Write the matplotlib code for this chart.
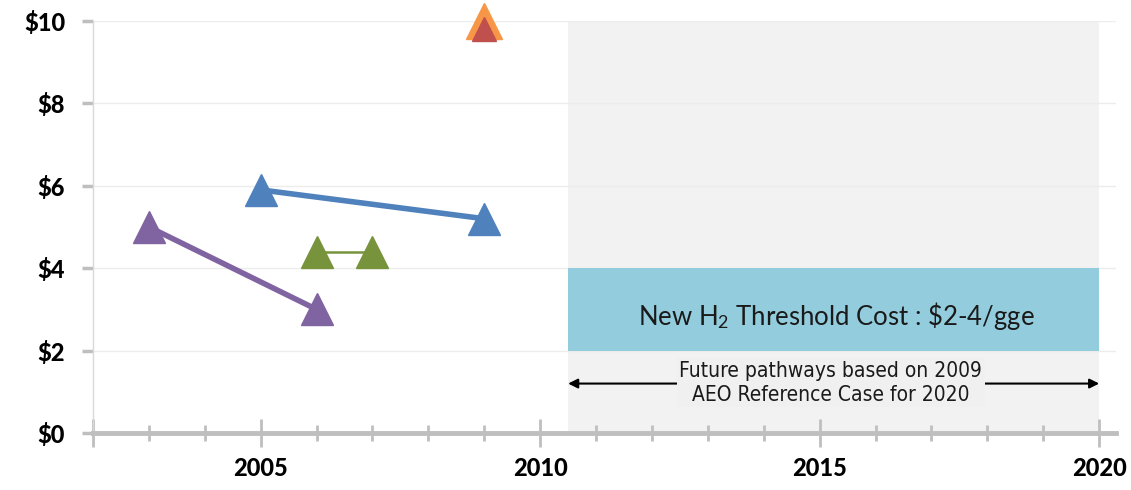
import matplotlib.pyplot as plt
import matplotlib

matplotlib.rcParams.update({
    "font.family": ["Lato", "DejaVu Sans"],
    "mathtext.fontset": "custom",
    "mathtext.rm": "Lato",
    "mathtext.it": "Lato:italic",
    "mathtext.bf": "Lato:bold",
})

# cost pathways ($/gge) by year
purple_years = [2003, 2006]
purple_cost = [5.0, 3.0]
blue_years = [2005, 2009]
blue_cost = [5.9, 5.2]
green_years = [2006, 2007]
green_cost = [4.4, 4.4]
orange_years = [2009]
orange_cost = [10.0]
red_years = [2009]
red_cost = [9.8]

# future window and threshold band
future_start, future_end = 2010.5, 2020
threshold_low, threshold_high = 2, 4
arrow_level = 1.2

yticks = [0, 2, 4, 6, 8, 10]
ytick_labels = ['$0', '$2', '$4', '$6', '$8', '$10']
xticks = [2002, 2005, 2010, 2015, 2020]
xtick_labels = ['', '2005', '2010', '2015', '2020']
minor_years = [y for y in range(2003, 2020) if y not in xticks]

fig = plt.figure(figsize=(11.31, 4.90), dpi=100)
ax = fig.add_axes([0.0822, 0.1163, 0.9045, 0.841])

ax.fill_between([future_start, future_end], 0, 10, color='#f2f2f2', zorder=0.2, lw=0)
ax.fill_between([future_start, future_end], threshold_low, threshold_high,
                color='#93cddd', zorder=0.6, lw=0)

ms = 23
ax.plot(purple_years, purple_cost, color='#8064a2', lw=4, marker='^', ms=ms, zorder=3)
ax.plot(blue_years, blue_cost, color='#4f81bd', lw=4, marker='^', ms=ms, zorder=3)
ax.plot(green_years, green_cost, color='#77933c', lw=1.8, marker='^', ms=ms, zorder=3)
ax.plot(orange_years, orange_cost, color='#f79646', lw=0, marker='^', ms=26, zorder=4, clip_on=False)
ax.plot(red_years, red_cost, color='#c0504d', lw=0, marker='^', ms=17, zorder=5, clip_on=False)

ax.text((future_start + future_end) / 2 + 0.05, (threshold_low + threshold_high) / 2 - 0.15,
        'New H$_2$ Threshold Cost : \\$2-4/gge', fontsize=18.5, ha='center', va='center',
        color='#1a1a1a', zorder=6)

ax.annotate('', xy=(future_start, arrow_level), xytext=(future_end, arrow_level),
            arrowprops=dict(arrowstyle='<|-|>', color='black', lw=1.5,
                            mutation_scale=14, shrinkA=0, shrinkB=0), zorder=6)
ax.text(2015.2, arrow_level + 0.02, 'Future pathways based on 2009\nAEO Reference Case for 2020',
        family=['DejaVu Sans'], fontstretch='condensed', fontsize=15, ha='center', va='center',
        linespacing=1.25, color='#1a1a1a', zorder=7,
        bbox=dict(facecolor='#f0f0f0', edgecolor='none', pad=2))

ax.set_xlim(2002, 2020.3)
ax.set_ylim(0, 10)
ax.set_xticks(xticks)
ax.set_xticklabels(xtick_labels, fontsize=17, fontweight='black')
ax.set_xticks(minor_years, minor=True)
ax.set_yticks(yticks)
ax.set_yticklabels(ytick_labels, fontsize=17, fontweight='black')

ax.tick_params(axis='x', which='major', direction='inout', length=20, width=2,
               color='#bfbfbf', pad=7)
ax.tick_params(axis='x', which='minor', direction='inout', length=12, width=2,
               color='#bfbfbf')
ax.tick_params(axis='y', which='major', direction='out', length=8, width=2.5,
               color='#bfbfbf', pad=12)

ax.spines['top'].set_visible(False)
ax.spines['right'].set_visible(False)
ax.spines['left'].set_color('#d9d9d9')
ax.spines['left'].set_linewidth(1)
ax.spines['bottom'].set_color('#bfbfbf')
ax.spines['bottom'].set_linewidth(3.5)

ax.set_axisbelow(True)
ax.grid(True, axis='y', color='#ececec', lw=1)

fig.savefig('out.png', dpi=100)
